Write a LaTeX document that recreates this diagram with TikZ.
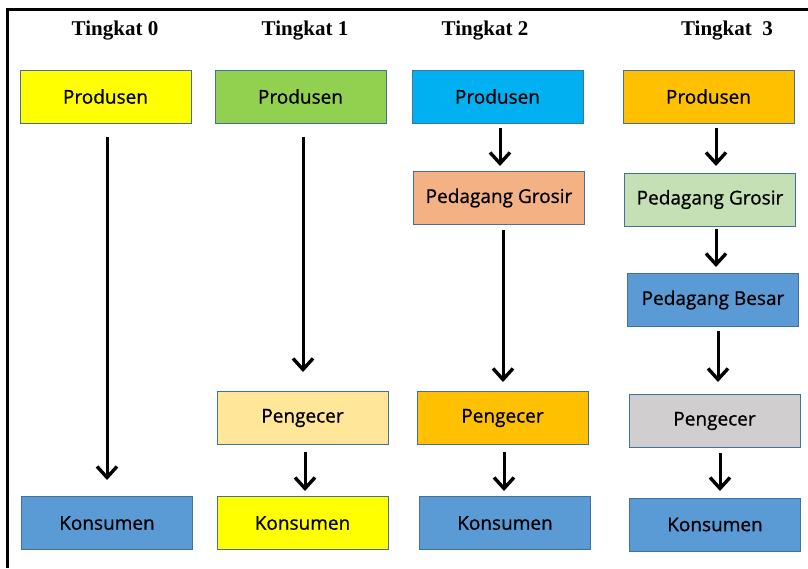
\documentclass[tikz,border=0pt]{standalone}
\usepackage{fontspec}
\setmainfont{Open Sans}
\newfontfamily\boxfont{Open Sans}[FakeBold=0.8]
\newfontfamily\titlefont{Liberation Serif}
\usetikzlibrary{arrows.meta}

\definecolor{edgeblue}{HTML}{41719C}
\definecolor{cyellow}{HTML}{FFFF00}
\definecolor{cgreen}{HTML}{92D050}
\definecolor{ccyan}{HTML}{00B0F0}
\definecolor{corange}{HTML}{FFC000}
\definecolor{cpeach}{HTML}{F4B183}
\definecolor{cpale}{HTML}{FFE699}
\definecolor{cmint}{HTML}{C5E0B4}
\definecolor{cblue}{HTML}{5B9BD5}
\definecolor{cgrey}{HTML}{D0CECE}

\tikzset{
  stagebox/.style={draw=edgeblue, line width=1pt, minimum width=171pt,
    minimum height=53pt, inner sep=0pt, font=\boxfont\fontsize{19}{22}\selectfont},
  heading/.style={font=\titlefont\bfseries\fontsize{21}{24}\selectfont},
  flow/.style={line width=3pt, -{Straight Barb[length=11pt,width=20pt,line width=3.4pt]}},
}

\begin{document}
\begin{tikzpicture}[x=1pt, y=-1pt]
\useasboundingbox (0,0) rectangle (808,568);
\fill[white] (0,0) rectangle (808,568);
% outer frame (only its left and top sides fall inside the page)
\draw[line width=3pt] (7,568) -- (7,9) -- (808,9);

% headings
\node[heading] (h0) at (115,31) {Tingkat 0};
\node[heading] (h1) at (305,31) {Tingkat 1};
\node[heading] (h2) at (485,31) {Tingkat 2};
\node[heading] (h3) at (727,31) {Tingkat\ \ 3};

% level 0
\node[stagebox, fill=cyellow] (p0) at (105.5,96.5) {Produsen};
\node[stagebox, fill=cblue] (k0) at (107,523) {Konsumen};
\coordinate (p0s) at (107,137);
\coordinate (k0e) at (107,480);
\draw[flow] (p0s) -- (k0e);

% level 1
\node[stagebox, fill=cgreen] (p1) at (300.5,96.5) {Produsen};
\node[stagebox, fill=cpale] (e1) at (302.5,418) {Pengecer};
\node[stagebox, fill=cyellow] (k1) at (302.5,523) {Konsumen};
\coordinate (p1s) at (303,137);
\coordinate (e1e) at (303,372);
\draw[flow] (p1s) -- (e1e);
\coordinate (e1s) at (305,452);
\coordinate (k1e) at (305,491);
\draw[flow] (e1s) -- (k1e);

% level 2
\node[stagebox, fill=ccyan] (p2) at (497.5,96.5) {Produsen};
\node[stagebox, fill=cpeach] (g2) at (499,198) {Pedagang Grosir};
\node[stagebox, fill=corange] (e2) at (502.5,418) {Pengecer};
\node[stagebox, fill=cblue] (k2) at (505,523) {Konsumen};
\coordinate (p2s) at (500,128);
\coordinate (g2e) at (500,166);
\draw[flow] (p2s) -- (g2e);
\coordinate (g2s) at (503,230);
\coordinate (e2e) at (503,382);
\draw[flow] (g2s) -- (e2e);
\coordinate (e2s) at (504,452);
\coordinate (k2e) at (504,491);
\draw[flow] (e2s) -- (k2e);

% level 3
\node[stagebox, fill=corange] (p3) at (708.5,96.5) {Produsen};
\node[stagebox, fill=cmint] (g3) at (710,199.5) {Pedagang Grosir};
\node[stagebox, fill=cblue] (b3) at (713,300) {Pedagang Besar};
\node[stagebox, fill=cgrey] (e3) at (714.5,421) {Pengecer};
\node[stagebox, fill=cblue] (k3) at (715,524.5) {Konsumen};
\coordinate (p3s) at (716,128);
\coordinate (g3e) at (716,166);
\draw[flow] (p3s) -- (g3e);
\coordinate (g3s) at (716,229);
\coordinate (b3e) at (716,267);
\draw[flow] (g3s) -- (b3e);
\coordinate (b3s) at (718,331);
\coordinate (e3e) at (718,382);
\draw[flow] (b3s) -- (e3e);
\coordinate (e3s) at (720,453);
\coordinate (k3e) at (720,491);
\draw[flow] (e3s) -- (k3e);
\end{tikzpicture}
\end{document}
